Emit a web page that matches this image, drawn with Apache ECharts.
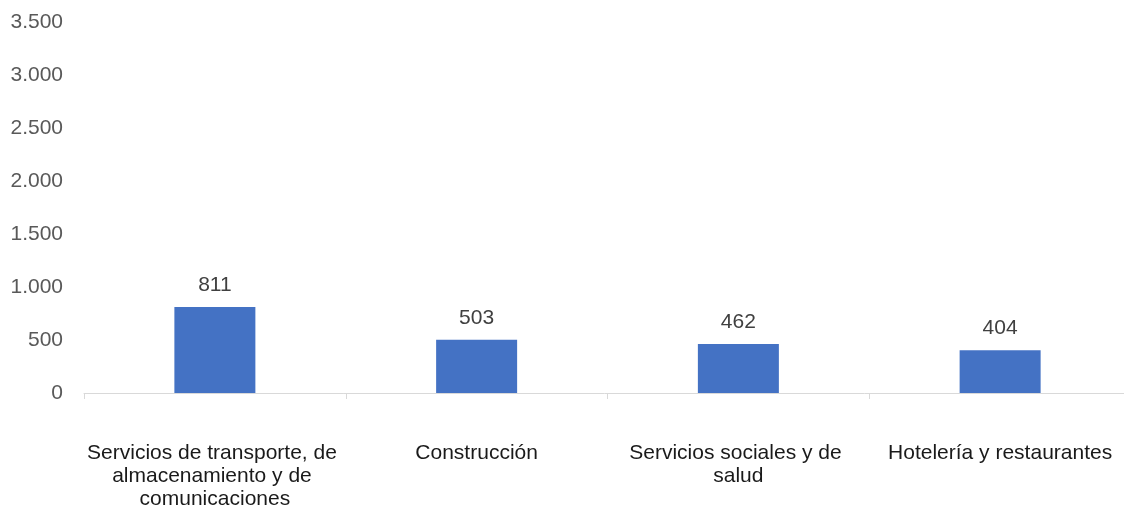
<!DOCTYPE html>
<html><head><meta charset="utf-8">
<script src="https://cdn.jsdelivr.net/npm/echarts@6/dist/echarts.min.js"></script>
<style>html,body{margin:0;padding:0;background:#fff}#c{width:1124px;height:510px}</style>
</head><body><div id="c"></div>
<script>
const categories = ["Servicios de transporte, de almacenamiento y de comunicaciones","Construcción","Servicios sociales y de salud","Hotelería y restaurantes"];
const values = [811, 503, 462, 404];
const yMin = 0, yMax = 3500, yStep = 500;

const chart = echarts.init(document.getElementById('c'));
const font = "'Liberation Sans', Arial, Helvetica, sans-serif";
chart.setOption({
  animation: false,
  grid: {left: 84, width: 1047, top: 22, bottom: 117, containLabel: false, outerBoundsMode: 'none'},
  xAxis: {
    type: 'category', data: categories,
    axisLine: {lineStyle: {color: '#d9d9d9', width: 1}},
    axisTick: {show: true, length: 6, lineStyle: {color: '#d9d9d9'}},
    axisLabel: {interval: 0, margin: 49, color: '#1a1a1a', fontSize: 21, fontFamily: font, lineHeight: 23, width: 256, overflow: 'break', align: 'center'}
  },
  yAxis: {
    type: 'value', min: yMin, max: yMax, interval: yStep,
    splitLine: {show: false}, axisLine: {show: false}, axisTick: {show: false},
    axisLabel: {margin: 21, color: '#595959', fontSize: 21, fontFamily: font, padding: [3, 0, 0, 0],
      formatter: v => v.toLocaleString('de-DE')}
  },
  series: [{
    type: 'bar', data: values, barWidth: 81,
    itemStyle: {color: '#4472C4'},
    label: {show: true, position: 'top', distance: 11, color: '#404040', fontSize: 21, fontFamily: font,
      formatter: p => p.value.toLocaleString('de-DE')}
  }]
});
</script></body></html>
